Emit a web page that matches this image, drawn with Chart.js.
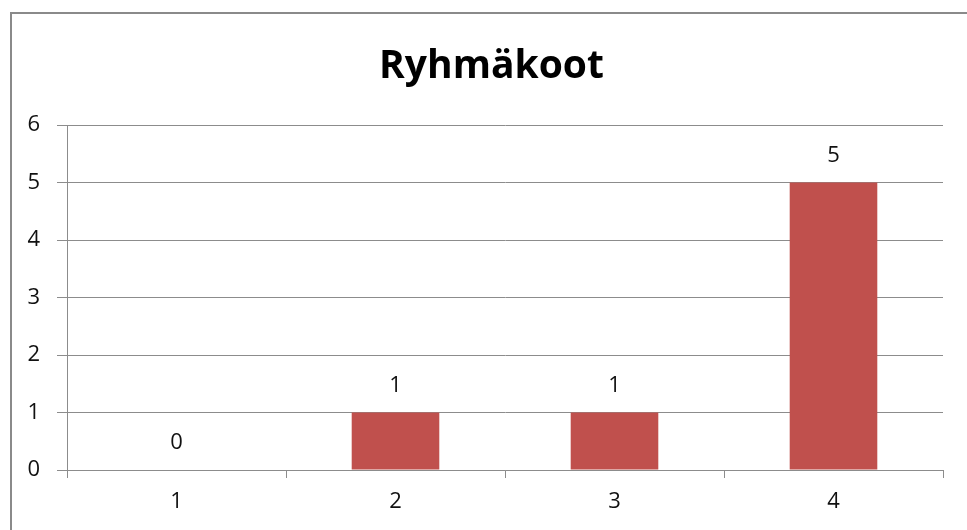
<!DOCTYPE html>
<html>
<head>
<meta charset="utf-8">
<script src="https://cdn.jsdelivr.net/npm/chart.js@4"></script>
<style>
  html, body { margin: 0; padding: 0; background: #fff; overflow: hidden; }
  #wrap { width: 967px; height: 530px; overflow: hidden; }
</style>
</head>
<body>
<div id="wrap"><canvas id="myChart" width="967" height="530"></canvas></div>
<script>
// chart data
const chartTitle = "Ryhmäkoot";
const categories = ["1", "2", "3", "4"];
const counts = [0, 1, 1, 5];
const yTicks = [0, 1, 2, 3, 4, 5, 6];

const barColor = "#C0504D";
const gridColor = "#8C8C8C";
const textColor = "#111111";
const fontFamily = "'Open Sans', sans-serif";

// outer frame like the spreadsheet chart box
const framePlugin = {
    id: "frame",
    beforeDraw(chart) {
        const ctx = chart.ctx;
        ctx.save();
        ctx.fillStyle = "#fff";
        ctx.fillRect(0, 0, chart.width, chart.height);
        ctx.strokeStyle = "#8A8A8A";
        ctx.lineWidth = 2;
        ctx.strokeRect(11, 13, 2000, 2000);
        ctx.restore();
    },
    // title in the original is centred on the whole frame, not the padded box
    afterLayout(chart) {
        if (chart.titleBlock) {
            chart.titleBlock.left += 24;
        }
    }
};

// value labels above the bars
const valueLabels = {
    id: "valueLabels",
    afterDatasetsDraw(chart) {
        const ctx = chart.ctx;
        const meta = chart.getDatasetMeta(0);
        ctx.save();
        ctx.font = "22px " + fontFamily;
        ctx.fillStyle = textColor;
        ctx.textAlign = "center";
        ctx.textBaseline = "middle";
        meta.data.forEach(function (bar, i) {
            ctx.fillText(String(counts[i]), bar.x, bar.y - 27);
        });
        ctx.restore();
    }
};

const data = {
    labels: categories,
    datasets: [{
        label: chartTitle,
        data: counts,
        backgroundColor: barColor,
        borderWidth: 0,
        barPercentage: 0.4,
        categoryPercentage: 1
    }]
};

const config = {
    type: "bar",
    data,
    plugins: [framePlugin, valueLabels],
    options: {
        responsive: false,
        animation: false,
        devicePixelRatio: 1,
        layout: { padding: { left: 16, right: 24, top: 0, bottom: 0 } },
        plugins: {
            legend: { display: false },
            tooltip: { enabled: false },
            title: {
                display: true,
                text: chartTitle,
                color: "#000",
                font: { family: fontFamily, size: 39, weight: "bold", lineHeight: 1.2 },
                padding: { top: 43.6, bottom: 34.6 }
            }
        },
        scales: {
            x: {
                grid: {
                    offset: true,
                    drawOnChartArea: false,
                    drawTicks: true,
                    tickLength: 8,
                    color: gridColor
                },
                border: { display: true, color: gridColor, width: 1 },
                ticks: {
                    color: textColor,
                    font: { family: fontFamily, size: 22 },
                    padding: 11,
                    maxRotation: 0
                },
                afterFit(scale) { scale.height = 60; }
            },
            y: {
                min: 0,
                max: 6,
                afterBuildTicks(scale) {
                    scale.ticks = yTicks.map(v => ({ value: v }));
                },
                grid: {
                    color: gridColor,
                    tickLength: 10,
                    drawTicks: true
                },
                border: { display: true, color: gridColor, width: 1 },
                ticks: {
                    color: textColor,
                    font: { family: fontFamily, size: 22 },
                    padding: 17
                },
                afterFit(scale) { scale.width = 51; }
            }
        }
    }
};

var myChart = new Chart(document.getElementById("myChart"), config);
</script>
</body>
</html>
